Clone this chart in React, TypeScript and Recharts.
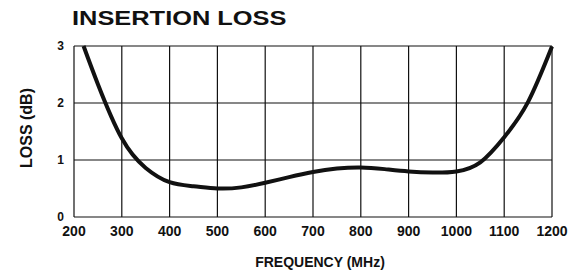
import React from "react";
import { LineChart, Line, XAxis, YAxis, CartesianGrid, Label } from "recharts";

const frequencies = [220, 250, 300, 350, 400, 450, 500, 550, 600, 650, 700, 750, 800, 850, 900, 950, 1000, 1050, 1100, 1150, 1200];
const lossValues = [3.0, 2.33, 1.38, 0.86, 0.61, 0.54, 0.5, 0.52, 0.6, 0.7, 0.79, 0.85, 0.87, 0.84, 0.8, 0.78, 0.8, 0.96, 1.4, 2.02, 2.99];
const xTicks = [200, 300, 400, 500, 600, 700, 800, 900, 1000, 1100, 1200];
const yTicks = [0, 1, 2, 3];
const title = "INSERTION LOSS";
const xLabel = "FREQUENCY (MHz)";
const yLabel = "LOSS (dB)";

const data = frequencies.map((f, i) => ({ f, loss: lossValues[i] }));

const FONT = "'Liberation Sans', Arial, Helvetica, sans-serif";
const INK = "#111";

const XTick = (props: any) => {
  const { x, y, payload } = props;
  return (
    <text x={x} y={y} dy={11} textAnchor="middle" fontFamily={FONT} fontWeight="bold" fontSize={14} fill={INK}>
      {payload.value}
    </text>
  );
};

const YTick = (props: any) => {
  const { x, y, payload } = props;
  return (
    <text x={x - 2} y={y} dy={4} textAnchor="end" fontFamily={FONT} fontWeight="bold" fontSize={12} fill={INK}>
      {payload.value}
    </text>
  );
};

export default function App() {
  return (
    <div style={{ position: "absolute", left: 0, top: 0, width: 579, height: 275, background: "#fff" }}>
      <svg width={579} height={40} style={{ position: "absolute", left: 0, top: 0 }}>
        <text
          x={0}
          y={0}
          transform="translate(72,25) scale(1.21,1)"
          fontFamily={FONT}
          fontWeight="bold"
          fontSize={21}
          fill={INK}
        >
          {title}
        </text>
      </svg>
      <div style={{ position: "absolute", left: 0, top: 0 }}>
        <LineChart width={579} height={275} data={data} margin={{ top: 46, right: 27, left: 0, bottom: 8 }}>
          <CartesianGrid stroke={INK} strokeWidth={1.2} />
          <XAxis
            dataKey="f"
            type="number"
            domain={[200, 1200]}
            ticks={xTicks}
            interval={0}
            height={50}
            axisLine={false}
            tickLine={false}
            tick={<XTick />}
          >
            <Label
              content={() => (
                <text x={320} y={267} textAnchor="middle" fontFamily={FONT} fontWeight="bold" fontSize={14} fill={INK}>
                  {xLabel}
                </text>
              )}
            />
          </XAxis>
          <YAxis
            type="number"
            domain={[0, 3]}
            ticks={yTicks}
            interval={0}
            width={74}
            axisLine={false}
            tickLine={false}
            tick={<YTick />}
          >
            <Label
              content={() => (
                <text
                  x={0}
                  y={0}
                  transform="translate(32,128) rotate(-90)"
                  textAnchor="middle"
                  fontFamily={FONT}
                  fontWeight="bold"
                  fontSize={16}
                  fill={INK}
                >
                  {yLabel}
                </text>
              )}
            />
          </YAxis>
          <Line
            type="natural"
            dataKey="loss"
            stroke={INK}
            strokeWidth={4}
            dot={false}
            isAnimationActive={false}
          />
        </LineChart>
      </div>
    </div>
  );
}
